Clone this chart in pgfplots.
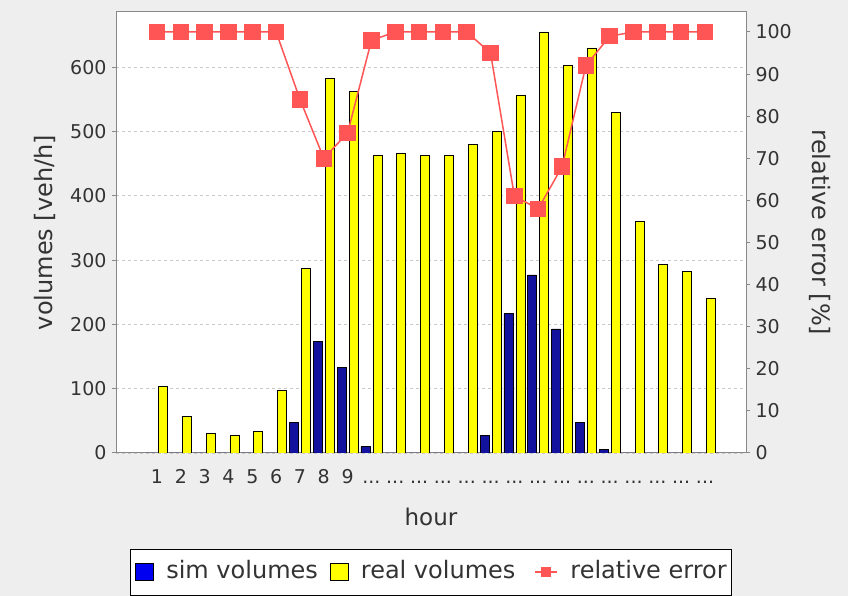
\documentclass[border=0pt]{standalone}
\usepackage{pgfplots}
\usepackage{pgfplotstable}
\pgfplotsset{compat=1.18}
\usepackage{fontspec}
\setmainfont{DejaVu Sans}
\definecolor{bg}{HTML}{EEEEEE}
\definecolor{simblue}{HTML}{12129E}
\definecolor{legblue}{HTML}{0000F0}
\definecolor{realyellow}{HTML}{FFFF00}
\definecolor{errred}{HTML}{FF5555}
\definecolor{axgray}{HTML}{888888}
\definecolor{gridgray}{HTML}{C8C8C8}
\definecolor{txt}{HTML}{333333}
\newcommand\dd{...}
\pgfplotsset{
  sqlegend/.style={legend image code/.code={\draw[##1] (0pt,-8.5pt) rectangle (18pt,8.5pt);}},
  linelegend/.style={legend image code/.code={\path[draw=none, fill=none] (0pt,-8pt) rectangle (31pt,8pt);
     \draw[draw=errred, fill=none, line width=2pt] (8pt,0pt) -- (30pt,0pt);
     \path[draw=none, fill=errred] (14pt,-5pt) rectangle (24pt,5pt);}},
}

\pgfplotstableread{
h sim real err
1 0 103 100
2 0 57 100
3 0 30 100
4 0 27 100
5 0 33 100
6 0 97 100
7 47 287 84
8 173 583 70
9 133 563 76
10 10 463 98
11 0 466 100
12 0 463 100
13 0 463 100
14 0 480 100
15 27 500 95
16 217 557 61
17 277 655 58
18 193 603 68
19 47 630 92
20 5 530 99
21 0 360 100
22 0 293 100
23 0 283 100
24 0 240 100
}\datatable

\begin{document}
\begin{tikzpicture}[x=1pt,y=1pt]
\fill[bg] (0,0) rectangle (848,596);
\useasboundingbox (0,0) rectangle (848,596);
\begin{axis}[
  at={(116pt,143pt)}, anchor=south west, scale only axis,
  width=630pt, height=441pt,
  xmin=-0.72, xmax=25.72,
  ymin=0, ymax=686,
  axis background/.style={fill=white},
  axis line style={axgray, line width=1pt},
  ytick={0,100,...,600},
  ytick pos=left,
  tick align=outside,
  major tick length=4pt,
  y tick style={axgray, line width=1pt},
  xtick={1,2,3,4,5,6,7,8,9,10,11,12,13,14,15,16,17,18,19,20,21,22,23,24},
  xticklabels={1,2,3,4,5,6,7,8,9,\dd,\dd,\dd,\dd,\dd,\dd,\dd,\dd,\dd,\dd,\dd,\dd,\dd,\dd,\dd},
  x tick style={draw=none},
  ymajorgrids,
  grid style={gridgray, dash pattern=on 3pt off 3pt, line width=0.8pt},
  /pgf/number format/assume math mode=true,
  tick label style={font=\fontsize{19}{19}\selectfont, text=txt},
  yticklabel style={xshift=-2pt},
  xticklabel style={text height=14pt, text depth=0pt, yshift=-9pt},
  ylabel={volumes [veh/h]},
  ylabel style={at={(axis description cs:-0.113,0.5)}, anchor=center, font=\fontsize{24}{24}\selectfont, text=txt},
  xlabel={hour},
  xlabel style={at={(axis description cs:0.5,-0.145)}, anchor=center, font=\fontsize{23}{23}\selectfont, text=txt},
]
\addplot[ybar, bar width=9pt, bar shift=-6pt, fill=simblue, draw=black, line width=0.8pt] table[x=h,y=sim]{\datatable};
\addplot[ybar, bar width=9pt, bar shift=6pt, fill=realyellow, draw=black, line width=0.8pt] table[x=h,y=real]{\datatable};
\end{axis}
\begin{axis}[
  at={(116pt,143pt)}, anchor=south west, scale only axis,
  width=630pt, height=441pt,
  xmin=-0.72, xmax=25.72,
  ymin=0, ymax=104.75,
  axis x line=none,
  axis y line*=right,
  axis line style={axgray, line width=1pt, -},
  ytick={0,10,...,100},
  tick align=outside,
  major tick length=4pt,
  y tick style={axgray, line width=1pt},
  /pgf/number format/assume math mode=true,
  tick label style={font=\fontsize{19}{19}\selectfont, text=txt},
  yticklabel style={xshift=2pt},
  ylabel={relative error [\%]},
  ylabel style={at={(axis description cs:1.117,0.5)}, anchor=center, rotate=180, font=\fontsize{24}{24}\selectfont, text=txt},
  legend columns=3,
  legend style={at={(0.5,-0.27)}, anchor=center, draw=black, line width=1pt, fill=white,
    font=\fontsize{24}{24}\selectfont, text=txt, inner xsep=5pt, inner ysep=11.5pt,
    nodes={inner sep=0pt, text height=18pt, text depth=5pt},
    /tikz/every odd column/.append style={column sep=12pt},
    /tikz/every even column/.append style={column sep=12pt}},
]
\addlegendimage{sqlegend, fill=legblue, draw=black, line width=1pt}
\addlegendentry{sim volumes}
\addlegendimage{sqlegend, fill=realyellow, draw=black, line width=1pt}
\addlegendentry{real volumes}
\addplot[errred, line width=1.5pt, mark=square*, mark size=7.5pt, mark options={fill=errred, draw=errred}, linelegend]
  table[x=h,y=err]{\datatable};
\addlegendentry{relative error}
\end{axis}
\end{tikzpicture}
\end{document}
